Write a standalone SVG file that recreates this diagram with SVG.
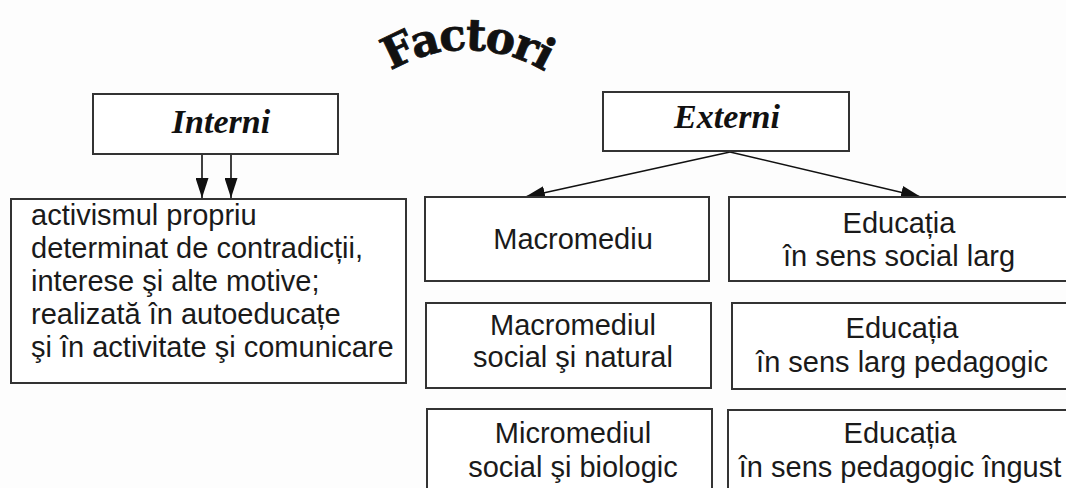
<svg xmlns="http://www.w3.org/2000/svg" width="1066" height="488" viewBox="0 0 1066 488">
<defs>
<style>
.box{fill:#fff;stroke:#333;stroke-width:2}
.t{font-family:"Liberation Sans",Arial,sans-serif;font-size:29px;fill:#1a1a1a}
.c{text-anchor:middle}
.h{font-family:"Liberation Serif","Times New Roman",serif;font-size:34px;font-weight:bold;font-style:italic;fill:#111;text-anchor:middle}
.title{font-family:"DejaVu Serif",serif;font-weight:bold;font-size:44px;fill:#111;stroke:#111;stroke-width:0.8;letter-spacing:-2px}
.conn{stroke:#111;stroke-width:1.6;fill:none;marker-end:url(#ah)}
</style>
<marker id="ah" viewBox="0 0 20 13" refX="20" refY="6.5" markerWidth="20" markerHeight="13" markerUnits="userSpaceOnUse" orient="auto">
<path d="M0,0 L20,6.5 L0,13 z" fill="#111"/>
</marker>
<path id="arc2" d="M 335.4 128 A 150 150 0 0 1 598.6 128"/>
</defs>
<rect x="0" y="0" width="1066" height="488" fill="#fdfdfd"/>

<g id="title">
<text class="title"><textPath href="#arc2" startOffset="50%" text-anchor="middle">Factori</textPath></text>
</g>

<g id="connectors">
<line class="conn" x1="202" y1="154" x2="202" y2="198"/>
<line class="conn" x1="231" y1="154" x2="231" y2="198"/>
<line class="conn" x1="730" y1="152" x2="525" y2="197"/>
<line class="conn" x1="730" y1="152" x2="921" y2="197"/>
</g>

<g id="interni">
<rect class="box" x="93" y="94" width="245" height="60"/>
<text class="h" x="221" y="133">Interni</text>
</g>

<g id="externi">
<rect class="box" x="603" y="92" width="246" height="59"/>
<text class="h" x="727" y="128">Externi</text>
</g>

<g id="activism">
<rect class="box" x="11" y="199" width="395" height="184"/>
<text class="t" x="31" y="225">activismul propriu</text>
<text class="t" x="31" y="258">determinat de contradicții,</text>
<text class="t" x="31" y="291">interese şi alte motive;</text>
<text class="t" x="31" y="324">realizată în autoeducațe</text>
<text class="t" x="31" y="357">şi în activitate şi comunicare</text>
</g>

<g id="macromediu">
<rect class="box" x="425" y="197" width="284" height="84"/>
<text class="t c" x="573" y="249">Macromediu</text>
</g>

<g id="macromediul">
<rect class="box" x="426" y="303" width="285" height="85"/>
<text class="t c" x="573" y="335">Macromediul</text>
<text class="t c" x="573" y="367">social şi natural</text>
</g>

<g id="micromediul">
<rect class="box" x="427" y="409" width="285" height="90"/>
<text class="t c" x="573" y="443">Micromediul</text>
<text class="t c" x="573" y="477">social şi biologic</text>
</g>

<g id="edu1">
<rect class="box" x="729" y="197" width="350" height="84"/>
<text class="t c" x="899" y="233">Educația</text>
<text class="t c" x="899" y="266">în sens social larg</text>
</g>

<g id="edu2">
<rect class="box" x="732" y="303" width="350" height="86"/>
<text class="t c" x="902" y="338">Educația</text>
<text class="t c" x="902" y="372">în sens larg pedagogic</text>
</g>

<g id="edu3">
<rect class="box" x="728" y="410" width="350" height="90"/>
<text class="t c" x="900" y="443">Educația</text>
<text class="t c" x="900" y="477">în sens pedagogic îngust</text>
</g>
</svg>
